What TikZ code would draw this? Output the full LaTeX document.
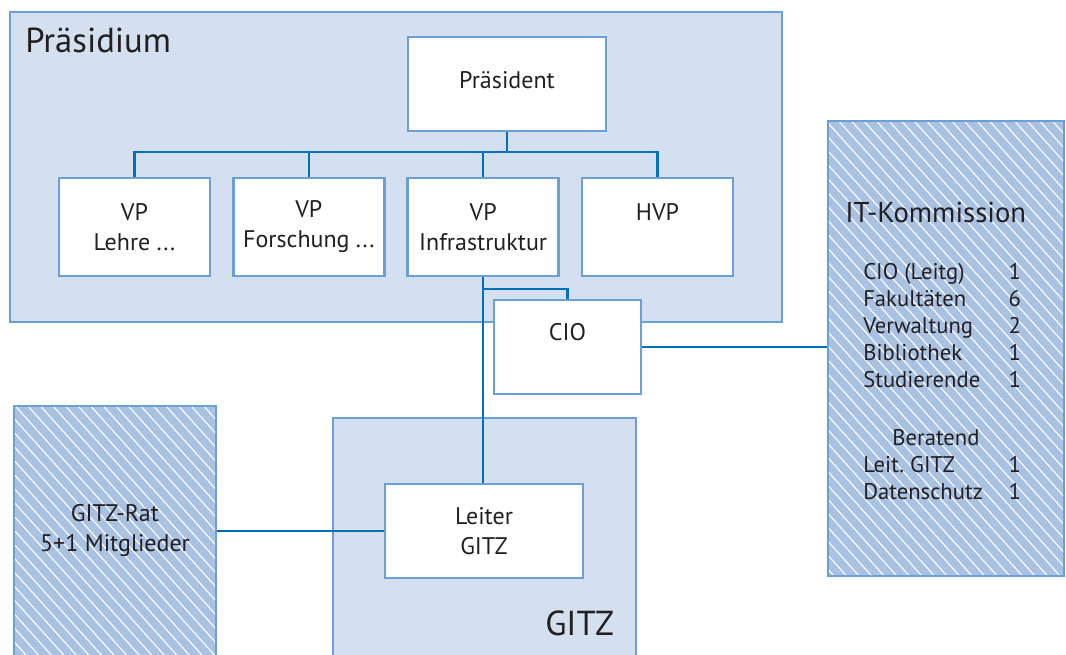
\documentclass[tikz,border=0pt]{standalone}
\usepackage{fontspec}
\setmainfont{PT Sans}
\usetikzlibrary{positioning, patterns.meta}

\definecolor{panelblue}{HTML}{D4DFF0}
\definecolor{hatchblue}{HTML}{A9C2E4}
\definecolor{lineblue}{HTML}{6AA0D6}
\definecolor{wireblue}{HTML}{0070BA}
\definecolor{ink}{HTML}{231F20}

\begin{document}
\begin{tikzpicture}[x=0.75pt, y=-0.75pt, text=ink, font=\fontsize{18}{22.5}\selectfont,
  panel/.style={draw=lineblue, line width=1.8pt, fill=panelblue},
  council/.style={draw=lineblue, line width=1.8pt, preaction={fill=hatchblue},
    pattern={Lines[angle=-48, distance=7pt, line width=0.85pt]}, pattern color=white},
  office/.style={draw=lineblue, line width=1.8pt, fill=white, align=center, minimum width=148.5pt, minimum height=70.5pt},
  vpbox/.style={office, minimum width=113.25pt, minimum height=73.5pt},
  heading/.style={font=\fontsize{26}{30}\selectfont, anchor=base west, inner sep=0pt},
  wire/.style={draw=wireblue, line width=1.9pt}]
  \useasboundingbox (0,0) rectangle (1066,654);
  \clip (0,0) rectangle (1066,654);

  \node[panel, minimum width=579pt, minimum height=232.5pt] (praes) at (396,167) {};
  \node[heading] (praeslbl) at (25,52) {Präsidium};
  \node[panel, minimum width=227.25pt, minimum height=211.5pt] (gitz) at (484.5,559) {};
  \node[heading] (gitzlbl) at (545,635) {GITZ};
  \node[council, minimum width=177pt, minimum height=341.25pt] (itk) at (946,348.5) {};
  \node[heading, font=\fontsize{21.5}{24}\selectfont] (itklbl) at (845,222) {IT-Kommission};
  \node[anchor=base west, inner sep=0pt, font=\fontsize{17}{20.25}\selectfont] (members) at (863,279)
    {\begin{tabular}[t]{@{}p{109pt}@{}r@{}}
      CIO (Leitg) & 1\\
      Fakultäten & 6\\
      Verwaltung & 2\\
      Bibliothek & 1\\
      Studierende & 1\\[23.25pt]
      \multicolumn{1}{@{}c@{}}{Beratend} & \\
      Leit.\ GITZ & 1\\
      Datenschutz & 1
    \end{tabular}};
  \node[council, minimum width=151.5pt, minimum height=220.5pt] (rat) at (115,553) {};
  \node[align=center] (ratlbl) at (115,530) {GITZ-Rat\\5+1 Mitglieder};

  \node[office] (president) at (507,84) {\raisebox{6pt}{Präsident}};
  \node[vpbox] (vpteach) at (134.5,227) {VP\\Lehre ...};
  \node[vpbox, right=15.7pt of vpteach] (vpresearch) {VP\\Forschung ...};
  \node[vpbox, right=15.7pt of vpresearch] (vpinfra) {VP\\Infrastruktur};
  \node[vpbox, right=15.7pt of vpinfra] (hvp) {HVP\\\mbox{}};
  \node[office, minimum width=110.25pt] (cio) at (567.5,347) {CIO\\\mbox{}};
  \node[office] (leiter) at (484,531) {Leiter\\GITZ};

  \coordinate (bus) at (president.south |- 0,152);
  \coordinate (cioknee) at (vpinfra.south |- 0,289);
  \draw[wire] (president.south) -- (bus);
  \foreach \n in {vpteach, vpresearch, vpinfra, hvp}
    \draw[wire] (\n.north) |- (bus);
  \draw[wire] (vpinfra.south) -- (vpinfra.south |- leiter.north);
  \draw[wire] (cioknee) -| (cio.north);
  \draw[wire] (cio.east) -- (cio.east -| itk.west);
  \draw[wire] (leiter.west) -- (leiter.west -| rat.east);
\end{tikzpicture}
\end{document}
